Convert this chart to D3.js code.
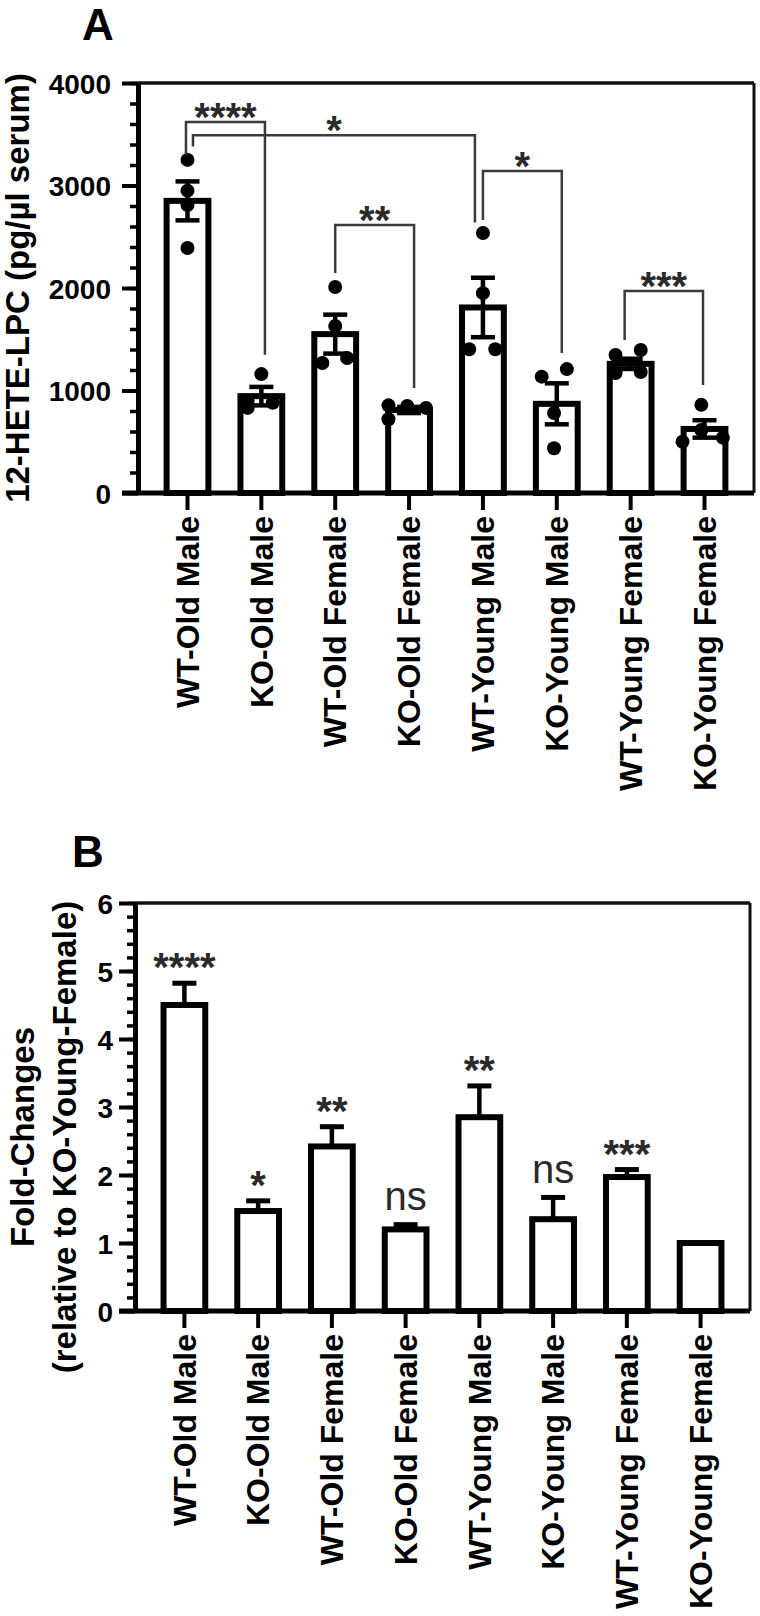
<!DOCTYPE html>
<html><head><meta charset="utf-8">
<script src="https://cdn.jsdelivr.net/npm/d3@7"></script>
<style>
body{margin:0;background:#fff}
svg{display:block}
text{font-family:"Liberation Sans",Arial,Helvetica,sans-serif}
</style>
</head><body>
<svg id="chart" width="760" height="1616"></svg>
<script>
// ---------- data ----------
const categories = ["WT-Old Male","KO-Old Male","WT-Old Female","KO-Old Female",
  "WT-Young Male","KO-Young Male","WT-Young Female","KO-Young Female"];

// Panel A: 12-HETE-LPC (pg/µl serum)
const meansA = [2850, 945, 1550, 810, 1810, 870, 1260, 625];
const semA   = [190, 90, 190, 30, 290, 200, 50, 85];
const pointsA = [
  [3250, 2950, 2810, 2390],
  [1160, 900, 830, 880],
  [2010, 1630, 1268, 1317],
  [855, 850, 830, 720],
  [2536, 1950, 1403, 1403],
  [1135, 1209, 780, 436],
  [1346, 1395, 1170, 1180],
  [860, 615, 540, 500]
];
// horizontal offset of each dot, as a fraction of the bar width
const jitterA = [
  [0, 0, 0, 0],
  [0, -0.3, -0.3, 0.25],
  [0, 0, -0.28, 0.26],
  [-0.45, -0.04, 0.37, -0.45],
  [0, 0, -0.3, 0.27],
  [-0.33, 0.22, -0.06, -0.06],
  [-0.33, 0.22, -0.33, 0.22],
  [-0.07, -0.07, 0.4, -0.48]
];
// significance brackets: groups, bracket level, leg ends (data units)
const bracketsA = [
  {a:0, b:1, level:3620, endA:3300, endB:1350, label:"****"},
  {a:0, b:4, level:3490, endA:3380, endB:2640, label:"*"},
  {a:2, b:3, level:2615, endA:2146, endB:1024, label:"**"},
  {a:4, b:5, level:3141, endA:2663, endB:1366, label:"*"},
  {a:6, b:7, level:1971, endA:1493, endB:1054, label:"***"}
];
const bracketDx = [[-1.5, 3.6],[5.5, -8],[0, 5],[0, 5],[-6, -1.5]];
const ticksA = [0, 1000, 2000, 3000, 4000];

// Panel B: fold changes relative to KO-Young-Female
const meansB = [4.5, 1.47, 2.42, 1.2, 2.85, 1.35, 1.97, 1.0];
const semB   = [0.32, 0.15, 0.29, 0.07, 0.46, 0.32, 0.11, 0];
const sigB   = ["****", "*", "**", "ns", "**", "ns", "***", ""];
const ticksB = [0, 1, 2, 3, 4, 5, 6];

// ---------- drawing ----------
const svg = d3.select("#chart");
const FONT = '"Liberation Sans",Arial,Helvetica,sans-serif';

function drawPanel(o) {
  const g = svg.append("g");
  const x = d3.scaleBand().domain(categories).range([o.x0, o.x1])
    .paddingInner(0.38).paddingOuter(0.36);
  const y = d3.scaleLinear().domain([0, o.max]).range([o.y0, o.y1]);
  const bw = x.bandwidth();
  const cx = i => x(categories[i]) + bw / 2;

  // frame (top / right)
  g.append("line").attr("x1", o.x0).attr("x2", o.x1).attr("y1", y(o.max)).attr("y2", y(o.max))
    .attr("stroke", "#111").attr("stroke-width", 3.5);
  g.append("line").attr("x1", o.x1).attr("x2", o.x1).attr("y1", y(o.max)).attr("y2", o.y0)
    .attr("stroke", "#111").attr("stroke-width", 3);

  // bars
  g.selectAll("rect.bar").data(o.means).enter().append("rect")
    .attr("class", "bar")
    .attr("x", (d, i) => x(categories[i]) + 2)
    .attr("width", bw - 4)
    .attr("y", d => y(d))
    .attr("height", d => o.y0 - y(d))
    .attr("fill", "#fff").attr("stroke", "#000").attr("stroke-width", 6);

  // y axis: minor then major
  const minor = d3.range(0, o.max + o.minorStep / 2, o.minorStep);
  const yMinor = g.append("g").attr("transform", `translate(${o.x0},0)`)
    .call(d3.axisLeft(y).tickValues(minor).tickSize(8).tickSizeOuter(0).tickFormat(""));
  yMinor.select(".domain").remove();
  yMinor.selectAll("line").attr("stroke", "#000").attr("stroke-width", 3.5);
  const yAx = g.append("g").attr("transform", `translate(${o.x0},0)`)
    .call(d3.axisLeft(y).tickValues(o.ticks).tickSize(16).tickSizeOuter(0)
      .tickPadding(o.tickPad).tickFormat(d3.format("d")));
  yAx.select(".domain").attr("stroke", "#000").attr("stroke-width", 5);
  yAx.selectAll("line").attr("stroke", "#000").attr("stroke-width", 4);
  yAx.selectAll("text").style("font-family", FONT).style("font-weight", "bold")
    .style("font-size", "28px").attr("fill", "#000").attr("dy", "0.36em");

  // x axis
  const xAx = g.append("g").attr("transform", `translate(0,${o.y0})`)
    .call(d3.axisBottom(x).tickSize(17).tickSizeOuter(0));
  xAx.select(".domain").attr("stroke", "#000").attr("stroke-width", 5)
    .attr("d", `M${o.x0 - 16},0H${o.x1}`);
  xAx.selectAll("line").attr("stroke", "#000").attr("stroke-width", 4);
  xAx.selectAll("text").attr("transform", "rotate(-90)")
    .attr("x", -23).attr("y", 0).attr("dy", "0.35em")
    .style("text-anchor", "end").style("font-family", FONT)
    .style("font-weight", "bold").style("font-size", "32px").attr("fill", "#000");

  // y-axis title
  const t = g.append("text")
    .attr("transform", `translate(0,${o.titleY}) rotate(-90)`)
    .attr("text-anchor", "middle")
    .style("font-family", FONT).style("font-weight", "bold").style("font-size", "33px");
  o.title.forEach((line, k) => {
    t.append("tspan").attr("x", 0).attr("y", o.titleX[k]).text(line);
  });

  // panel letter
  g.append("text").attr("x", o.letterX).attr("y", o.letterY).text(o.letter)
    .style("font-family", FONT).style("font-weight", "bold").style("font-size", "44px");

  return {g, x, y, cx, bw};
}

// ---------- Panel A ----------
const A = drawPanel({
  x0: 138, x1: 754, y0: 493, y1: 83, max: 4000, minorStep: 200, ticks: ticksA, tickPad: 11,
  means: meansA, title: ["12-HETE-LPC (pg/µl serum)"], titleX: [29], titleY: 288,
  letter: "A", letterX: 82, letterY: 40
});
// error bars (both directions)
meansA.forEach((m, i) => {
  const c = A.cx(i), lo = A.y(m - semA[i]), hi = A.y(m + semA[i]);
  A.g.append("line").attr("x1", c).attr("x2", c).attr("y1", lo).attr("y2", hi)
    .attr("stroke", "#000").attr("stroke-width", 4.5);
  [lo, hi].forEach(yy => A.g.append("line").attr("x1", c - 12).attr("x2", c + 12)
    .attr("y1", yy).attr("y2", yy).attr("stroke", "#000").attr("stroke-width", 4.5));
});
// points
pointsA.forEach((pts, i) => {
  A.g.selectAll(null).data(pts).enter().append("circle")
    .attr("cx", (d, k) => A.cx(i) + jitterA[i][k] * A.bw)
    .attr("cy", d => A.y(d)).attr("r", 7).attr("fill", "#000");
});
// brackets
bracketsA.forEach((b, j) => {
  const xa = A.cx(b.a) + bracketDx[j][0], xb = A.cx(b.b) + bracketDx[j][1];
  A.g.append("path")
    .attr("d", `M${xa},${A.y(b.endA)}V${A.y(b.level)}H${xb}V${A.y(b.endB)}`)
    .attr("fill", "none").attr("stroke", "#3a3a3a").attr("stroke-width", 2.5);
  A.g.append("text").attr("x", (xa + xb) / 2).attr("y", A.y(b.level) - 14 + 23)
    .attr("text-anchor", "middle").text(b.label)
    .style("font-family", FONT).style("font-weight", "bold").style("font-size", "40px")
    .attr("fill", "#2a2a2a");
});

// ---------- Panel B ----------
const B = drawPanel({
  x0: 135, x1: 750, y0: 1311, y1: 903, max: 6, minorStep: 0.2, ticks: ticksB, tickPad: 6,
  means: meansB, title: ["Fold-Changes", "(relative to KO-Young-Female)"], titleX: [34, 76], titleY: 1137,
  letter: "B", letterX: 72, letterY: 867
});
meansB.forEach((m, i) => {
  const c = B.cx(i);
  if (semB[i] > 0) {
    const hi = B.y(m + semB[i]);
    B.g.append("line").attr("x1", c).attr("x2", c).attr("y1", B.y(m)).attr("y2", hi)
      .attr("stroke", "#000").attr("stroke-width", 4.5);
    B.g.append("line").attr("x1", c - 12).attr("x2", c + 12).attr("y1", hi).attr("y2", hi)
      .attr("stroke", "#000").attr("stroke-width", 5);
  }
  const s = sigB[i];
  if (s) {
    const center = B.y(m + semB[i]) - 25;
    const isNs = s === "ns";
    B.g.append("text").attr("x", c).attr("y", center + (isNs ? 10.5 : 23))
      .attr("text-anchor", "middle").text(s)
      .style("font-family", FONT).style("font-weight", isNs ? "normal" : "bold")
      .style("font-size", "40px").attr("fill", "#2a2a2a");
  }
});
</script>
</body></html>
